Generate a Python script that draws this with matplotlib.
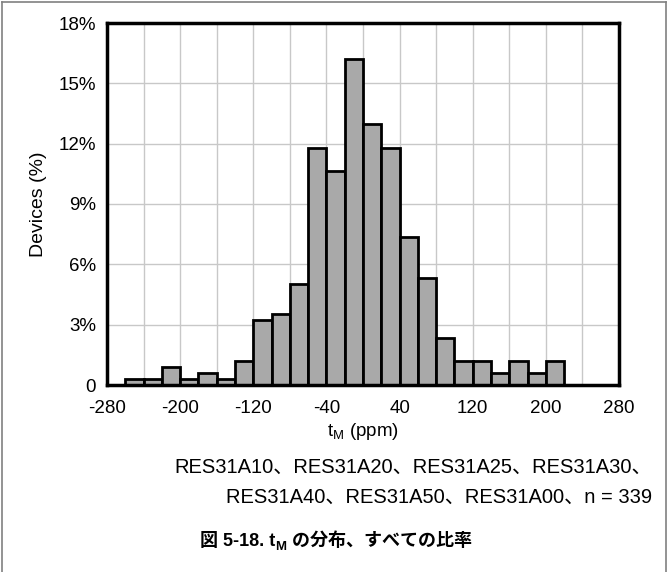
import matplotlib
matplotlib.use("Agg")
import matplotlib.pyplot as plt
from matplotlib.lines import Line2D

plt.rcParams['font.family'] = ['Liberation Sans', 'Noto Sans CJK JP']
plt.rcParams['mathtext.fontset'] = 'custom'
plt.rcParams['mathtext.rm'] = 'Liberation Sans'
plt.rcParams['mathtext.it'] = 'Liberation Sans'
plt.rcParams['mathtext.bf'] = 'Liberation Sans:bold'
plt.rcParams['axes.unicode_minus'] = False

# Data: bin left edges (ppm) and percent of devices
bin_left = [-260, -240, -220, -200, -180, -160, -140, -120, -100, -80, -60, -40,
            -20, 0, 20, 40, 60, 80, 100, 120, 140, 160, 180, 200]
percent = [0.29, 0.29, 0.88, 0.29, 0.59, 0.29, 1.18, 3.24, 3.54, 5.01, 11.80, 10.62,
           16.22, 12.98, 11.80, 7.37, 5.31, 2.36, 1.18, 1.18, 0.59, 1.18, 0.59, 1.18]
bin_width = 20
x_ticks = [-280, -200, -120, -40, 40, 120, 200, 280]
x_grid = [-280, -240, -200, -160, -120, -80, -40, 0, 40, 80, 120, 160, 200, 240, 280]
y_ticks = [0, 3, 6, 9, 12, 15, 18]
y_ticklabels = ['0', '3%', '6%', '9%', '12%', '15%', '18%']

W, H = 668, 572
fig = plt.figure(figsize=(W / 100, H / 100), dpi=100)
ax = fig.add_axes([107 / W, 1 - 385 / H, 512 / W, 362 / H])

ax.bar(bin_left, percent, width=bin_width, align='edge', color='#a9a9a9',
       edgecolor='black', linewidth=2.0, zorder=3)

ax.set_xlim(-280, 280)
ax.set_ylim(0, 18)
ax.set_xticks(x_ticks)
ax.set_xticks(x_grid, minor=True)
ax.set_yticks(y_ticks)
ax.set_yticklabels(y_ticklabels)
ax.tick_params(axis='both', which='both', length=0, labelsize=13.5)
ax.tick_params(axis='x', pad=11)
ax.tick_params(axis='y', pad=8)
ax.grid(True, which='both', color='#c8c8c8', linewidth=1.0, zorder=0)
for s in ax.spines.values():
    s.set_linewidth(2.5)
    s.set_color('black')
    s.set_zorder(5)

ax.set_xlabel(r'$\mathregular{t_M}$ (ppm)', fontsize=13.5, labelpad=3)
ax.set_ylabel('Devices (%)', fontsize=14, labelpad=8)

fig.text(652 / W, 1 - 467 / H, 'RES31A10、RES31A20、RES31A25、RES31A30、',
         ha='right', va='center', fontsize=14.5)
fig.text(652 / W, 1 - 497 / H, 'RES31A40、RES31A50、RES31A00、n = 339',
         ha='right', va='center', fontsize=14.5)

# Caption with subscript assembled from pieces
pieces = [('図 5-18. t', 13, 0), ('M', 9.5, -3.5), (' の分布、すべての比率', 13, 0)]
fig.canvas.draw()
r = fig.canvas.get_renderer()
texts = []
widths = []
for s, fs, dy in pieces:
    t = fig.text(0, 0, s, fontsize=fs, fontweight='bold', ha='left', va='baseline')
    widths.append(t.get_window_extent(r).width)
    texts.append(t)
total = sum(widths)
x0 = 336 - total / 2
base_y = H - 546
for t, w, (s, fs, dy) in zip(texts, widths, pieces):
    t.set_position((x0 / W, (base_y + dy) / H))
    x0 += w

# Outer frame (gray)
kw = dict(transform=fig.transFigure, color='#808080', lw=1.2)
fig.add_artist(Line2D([1.5 / W, 1.5 / W], [0, 1 - 1.5 / H], **kw))
fig.add_artist(Line2D([1.5 / W, 665.5 / W], [1 - 1.5 / H, 1 - 1.5 / H], **kw))
fig.add_artist(Line2D([665.5 / W, 665.5 / W], [0, 1 - 1.5 / H], **kw))

fig.savefig('out.png', dpi=100)
